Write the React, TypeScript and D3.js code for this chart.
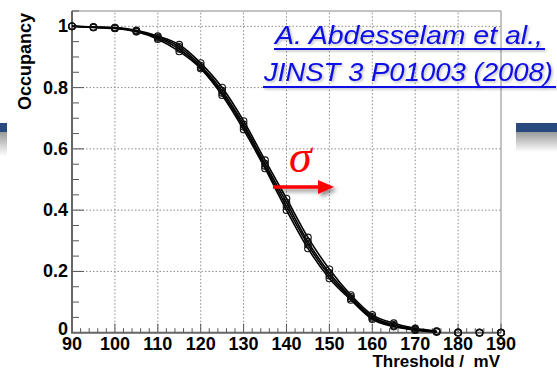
import React from "react";
import * as d3 from "d3";

const thresholds = [90, 95, 100, 105, 110, 115, 120, 125, 130, 135, 140, 145, 150, 155, 160, 165, 170, 175, 180, 185, 190];
const seriesA = [1.0, 0.998, 0.996, 0.987, 0.968, 0.94, 0.88, 0.8, 0.691, 0.563, 0.438, 0.311, 0.207, 0.123, 0.058, 0.031, 0.014, 0.005, 0.001, 0, 0];
const seriesB = [1.0, 0.997, 0.995, 0.985, 0.965, 0.933, 0.872, 0.79, 0.68, 0.552, 0.425, 0.297, 0.195, 0.117, 0.052, 0.026, 0.011, 0.004, 0.001, 0, 0];
const seriesC = [1.0, 0.997, 0.994, 0.984, 0.962, 0.926, 0.866, 0.782, 0.672, 0.544, 0.412, 0.287, 0.186, 0.112, 0.048, 0.023, 0.01, 0.003, 0, 0, 0];
const seriesD = [1.0, 0.996, 0.993, 0.982, 0.958, 0.918, 0.862, 0.775, 0.663, 0.536, 0.4, 0.275, 0.177, 0.107, 0.044, 0.02, 0.008, 0.002, 0, 0, 0];
const allSeries = [seriesA, seriesB, seriesC, seriesD];
const xTickLabels = [90, 100, 110, 120, 130, 140, 150, 160, 170, 180, 190];
const yTickLabels = [0, 0.2, 0.4, 0.6, 0.8, 1];
const citeLines = ["A. Abdesselam et al.,", "JINST 3 P01003 (2008)"];

export default function App() {
  const W = 557, H = 370;
  const x = d3.scaleLinear().domain([90, 190]).range([72, 501]);
  const y = d3.scaleLinear().domain([0, 1.05]).range([332.7, 11]);
  const line = d3.line<number>()
    .x((_, i) => x(thresholds[i]))
    .y((d) => y(d))
    .curve(d3.curveMonotoneX);
  const xMinor = d3.range(90, 190.01, 2);
  const yMinor = d3.range(0, 1.0501, 0.05);
  const fmtY = (v: number) => (v === 0 ? "0" : v === 1 ? "1" : v.toFixed(1));
  const axisFont = "'Liberation Sans', Arial, Helvetica, sans-serif";

  return (
    <svg width={W} height={H} style={{ position: "absolute", left: 0, top: 0, background: "#fff" }}>
      <defs>
        <linearGradient id="fadeL" x1="0" y1="0" x2="0" y2="1">
          <stop offset="0" stopColor="#9a9a9a" />
          <stop offset="1" stopColor="#ffffff" />
        </linearGradient>
        <filter id="shadow" x="-20%" y="-50%" width="150%" height="250%">
          <feDropShadow dx="3" dy="3" stdDeviation="2" floodColor="#000" floodOpacity="0.45" />
        </filter>
        <filter id="tshadow" x="-5%" y="-20%" width="110%" height="160%">
          <feDropShadow dx="1.5" dy="1.5" stdDeviation="1" floodColor="#000" floodOpacity="0.25" />
        </filter>
      </defs>
      {/* slide background bars */}
      <rect x={0} y={123} width={7} height={9} fill="#284a7e" />
      <rect x={0} y={132} width={7} height={24} fill="url(#fadeL)" />
      <rect x={516} y={123} width={41} height={9} fill="#284a7e" />
      <rect x={516} y={132} width={41} height={20} fill="url(#fadeL)" />

      {/* grid */}
      {yTickLabels.filter((v) => v > 0).map((v) => (
        <line key={"gy" + v} x1={x(90)} x2={x(190)} y1={y(v)} y2={y(v)} stroke="#8a8a8a" strokeWidth={1} strokeDasharray="1.5,2" />
      ))}
      {xTickLabels.filter((v) => v > 90 && v < 190).map((v) => (
        <line key={"gx" + v} x1={x(v)} x2={x(v)} y1={y(0)} y2={y(1.05)} stroke="#8a8a8a" strokeWidth={1} strokeDasharray="1.5,2" />
      ))}

      {/* frame */}
      <line x1={x(90)} x2={x(190)} y1={y(1.05)} y2={y(1.05)} stroke="#888" strokeWidth={1} />
      <line x1={x(190)} x2={x(190)} y1={y(1.05)} y2={y(0)} stroke="#888" strokeWidth={1} />

      {/* ticks */}
      {xMinor.map((v, i) => (
        <line key={"tx" + i} x1={x(v)} x2={x(v)} y1={y(0)} y2={y(0) - (Math.round(v) % 10 === 0 ? 9 : 4.5)} stroke="#555" strokeWidth={1} />
      ))}
      {yMinor.map((v, i) => (
        <line key={"ty" + i} x1={x(90)} x2={x(90) + (i % 4 === 0 ? 12 : 7)} y1={y(v)} y2={y(v)} stroke="#555" strokeWidth={1} />
      ))}
      <line x1={x(90)} x2={x(90)} y1={y(1.05)} y2={y(0)} stroke="#666" strokeWidth={2} />
      <line x1={x(90) - 1} x2={x(190)} y1={y(0)} y2={y(0)} stroke="#666" strokeWidth={2} />

      {/* curves */}
      {allSeries.map((s, k) => (
        <path key={"l" + k} d={line(s.slice(0, 18)) || ""} fill="none" stroke="#000" strokeWidth={1.6} />
      ))}
      {allSeries.map((s, k) =>
        s.map((v, i) => (
          <circle key={"m" + k + "_" + i} cx={x(thresholds[i])} cy={y(v)} r={3.3} fill="none" stroke="#111" strokeWidth={1.1} />
        ))
      )}

      {/* tick labels */}
      {xTickLabels.map((v) => (
        <text key={"xl" + v} x={x(v)} y={350} textAnchor="middle" fontFamily={axisFont} fontWeight="bold" fontSize={18} fill="#000">{v}</text>
      ))}
      {yTickLabels.map((v) => (
        <text key={"yl" + v} x={68} y={y(v) + (v === 0 ? 2 : 6)} textAnchor="end" fontFamily={axisFont} fontWeight="bold" fontSize={18} fill="#000">{fmtY(v)}</text>
      ))}

      {/* axis titles */}
      <text x={500} y={366.5} textAnchor="end" fontFamily={axisFont} fontWeight="bold" fontSize={17} fill="#000" style={{ whiteSpace: "pre" }}>{"Threshold /  mV"}</text>
      <text transform="translate(31,13) rotate(-90)" textAnchor="end" fontFamily={axisFont} fontWeight="bold" fontSize={18} fill="#000">Occupancy</text>

      {/* citation */}
      <g filter="url(#tshadow)">
        <text x={275} y={44} fontFamily="'Liberation Sans', 'Open Sans', sans-serif" fontStyle="italic" fontSize={25} fill="#0c0ce6" textLength={268} lengthAdjust="spacingAndGlyphs">{citeLines[0]}</text>
        <rect x={274} y={48} width={271} height={2} fill="#0c0ce6" />
        <text x={264} y={81} fontFamily="'Liberation Sans', 'Open Sans', sans-serif" fontStyle="italic" fontSize={25} fill="#0c0ce6" textLength={289} lengthAdjust="spacingAndGlyphs">{citeLines[1]}</text>
        <rect x={263} y={86} width={293} height={2} fill="#0c0ce6" />
      </g>

      {/* sigma arrow */}
      <text x={289} y={172} fontFamily="'Liberation Serif', 'DejaVu Serif', serif" fontStyle="italic" fontSize={46} fill="#ff0000">σ</text>
      <g filter="url(#shadow)">
        <line x1={273} x2={321} y1={187} y2={187} stroke="#ff0000" strokeWidth={3.5} />
        <path d="M318,180 L334,187 L318,194 Z" fill="#ff0000" />
      </g>
    </svg>
  );
}
